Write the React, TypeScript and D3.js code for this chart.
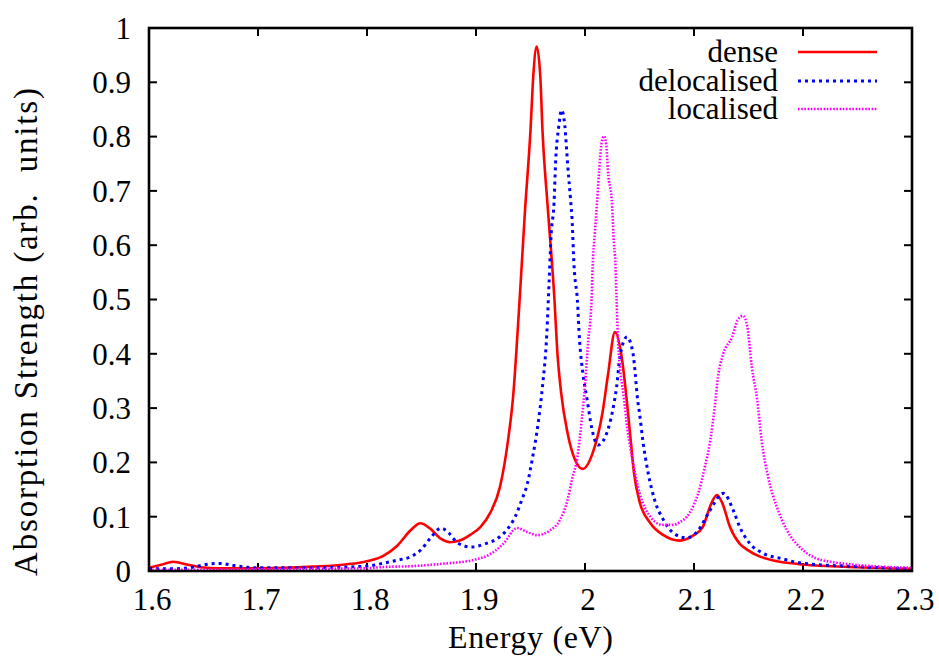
import React from "react";
import * as d3 from "d3";

const xTicks = [1.6, 1.7, 1.8, 1.9, 2.0, 2.1, 2.2, 2.3];
const xTickLabels = ["1.6", "1.7", "1.8", "1.9", "2", "2.1", "2.2", "2.3"];
const yTicks = [0, 0.1, 0.2, 0.3, 0.4, 0.5, 0.6, 0.7, 0.8, 0.9, 1];
const yTickLabels = ["0", "0.1", "0.2", "0.3", "0.4", "0.5", "0.6", "0.7", "0.8", "0.9", "1"];

const seriesNames = ["dense", "delocalised", "localised"];

const dense: [number, number][] = [
  [1.600, 0.006], [1.612, 0.012], [1.622, 0.017], [1.635, 0.012], [1.647, 0.007],
  [1.665, 0.005], [1.700, 0.005], [1.750, 0.008], [1.780, 0.012], [1.800, 0.018],
  [1.815, 0.028], [1.828, 0.047], [1.840, 0.075], [1.849, 0.088], [1.858, 0.078],
  [1.868, 0.059], [1.876, 0.053], [1.885, 0.056], [1.895, 0.067], [1.904, 0.081],
  [1.913, 0.107], [1.922, 0.155], [1.929, 0.235], [1.934, 0.320], [1.940, 0.499],
  [1.945, 0.665], [1.950, 0.812], [1.9525, 0.91], [1.9557, 0.966], [1.959, 0.91],
  [1.961, 0.812], [1.966, 0.665], [1.972, 0.499], [1.9745, 0.407], [1.978, 0.33],
  [1.984, 0.254], [1.991, 0.204], [1.998, 0.188], [2.007, 0.217], [2.016, 0.291],
  [2.021, 0.36], [2.0275, 0.440], [2.034, 0.389], [2.038, 0.32], [2.041, 0.26],
  [2.045, 0.18], [2.050, 0.128], [2.060, 0.088], [2.072, 0.066], [2.087, 0.056],
  [2.099, 0.065], [2.108, 0.081], [2.116, 0.125], [2.121, 0.140], [2.126, 0.125],
  [2.133, 0.081], [2.142, 0.050], [2.149, 0.039], [2.160, 0.027], [2.172, 0.020],
  [2.195, 0.013], [2.200, 0.012], [2.250, 0.007], [2.300, 0.004],
];

const delocalised: [number, number][] = [
  [1.600, 0.004], [1.620, 0.004], [1.640, 0.007], [1.652, 0.012], [1.665, 0.014],
  [1.678, 0.010], [1.690, 0.007], [1.700, 0.006], [1.750, 0.006], [1.800, 0.009],
  [1.8165, 0.015], [1.828, 0.020], [1.841, 0.027], [1.850, 0.040], [1.858, 0.060],
  [1.868, 0.079], [1.875, 0.070], [1.883, 0.052], [1.896, 0.044], [1.908, 0.050],
  [1.919, 0.059], [1.928, 0.075], [1.936, 0.100], [1.942, 0.131], [1.947, 0.160],
  [1.952, 0.210], [1.957, 0.272], [1.961, 0.340], [1.965, 0.438], [1.967, 0.530],
  [1.969, 0.622], [1.9716, 0.678], [1.973, 0.751], [1.976, 0.82], [1.9785, 0.849],
  [1.9815, 0.82], [1.984, 0.751], [1.987, 0.678], [1.988, 0.652], [1.990, 0.560],
  [1.993, 0.499], [1.995, 0.425], [1.998, 0.365], [2.002, 0.315], [2.006, 0.265],
  [2.012, 0.232], [2.021, 0.260], [2.026, 0.302], [2.029, 0.339], [2.032, 0.394],
  [2.0385, 0.431], [2.044, 0.401], [2.046, 0.365], [2.048, 0.320], [2.050, 0.291],
  [2.053, 0.241], [2.058, 0.180], [2.064, 0.130], [2.072, 0.094], [2.081, 0.070],
  [2.093, 0.061], [2.104, 0.075], [2.113, 0.106], [2.127, 0.143], [2.136, 0.112],
  [2.142, 0.081], [2.151, 0.051], [2.163, 0.033], [2.182, 0.022], [2.197, 0.015],
  [2.250, 0.008], [2.300, 0.004],
];

const localised: [number, number][] = [
  [1.600, 0.002], [1.700, 0.003], [1.750, 0.004], [1.800, 0.005], [1.812, 0.007],
  [1.842, 0.009], [1.873, 0.014], [1.897, 0.020], [1.913, 0.031], [1.925, 0.050],
  [1.9376, 0.079], [1.947, 0.072], [1.956, 0.066], [1.968, 0.075], [1.977, 0.094],
  [1.984, 0.131], [1.988, 0.168], [1.993, 0.210], [1.997, 0.278], [2.000, 0.342],
  [2.003, 0.425], [2.006, 0.499], [2.007, 0.560], [2.009, 0.622], [2.011, 0.678],
  [2.013, 0.738], [2.015, 0.785], [2.0174, 0.801], [2.0195, 0.785], [2.021, 0.738],
  [2.025, 0.670], [2.026, 0.622], [2.028, 0.560], [2.029, 0.499], [2.030, 0.438],
  [2.032, 0.376], [2.035, 0.330], [2.039, 0.260], [2.044, 0.200], [2.050, 0.144],
  [2.060, 0.100], [2.071, 0.085], [2.081, 0.085], [2.087, 0.090], [2.096, 0.107],
  [2.104, 0.144], [2.110, 0.192], [2.115, 0.241], [2.119, 0.302], [2.122, 0.357],
  [2.127, 0.401], [2.135, 0.431], [2.140, 0.462], [2.145, 0.470], [2.149, 0.449],
  [2.153, 0.376], [2.158, 0.315], [2.162, 0.241], [2.168, 0.173], [2.176, 0.118],
  [2.185, 0.076], [2.197, 0.044], [2.209, 0.026], [2.225, 0.017], [2.240, 0.013],
  [2.271, 0.008], [2.300, 0.006],
];

const W = 939;
const H = 660;
const left = 149, right = 912, top = 28, bottom = 571;
const FONT = "Liberation Serif, DejaVu Serif, serif";

export default function App() {
  const x = d3.scaleLinear().domain([1.6, 2.3]).range([left, right]);
  const y = d3.scaleLinear().domain([0, 1]).range([bottom, top]);
  const line = d3
    .line<[number, number]>()
    .x((d) => x(d[0]))
    .y((d) => y(d[1]))
    .curve(d3.curveMonotoneX);

  const styles = [
    { data: dense, color: "#ff0000", width: 2.6, dash: undefined as string | undefined },
    { data: delocalised, color: "#0000ff", width: 3, dash: "3 4" },
    { data: localised, color: "#ff00ff", width: 2.6, dash: "1.6 1.6" },
  ];
  const tickLen = 8;
  const legendY = [52, 81, 109];
  const textStyle = { fontFamily: FONT };

  return (
    <svg
      width={W}
      height={H}
      viewBox={`0 0 ${W} ${H}`}
      style={{ position: "absolute", left: 0, top: 0, background: "#fff", fontFamily: FONT }}
    >
      <defs>
        <clipPath id="plotclip">
          <rect x={left} y={top} width={right - left} height={bottom - top} />
        </clipPath>
      </defs>
      <rect x={0} y={0} width={W} height={H} fill="#fff" />

      {/* ticks */}
      {xTicks.map((t, i) => (
        <g key={"xt" + i}>
          <line x1={x(t)} x2={x(t)} y1={bottom} y2={bottom - tickLen} stroke="#000" strokeWidth={2} />
          <line x1={x(t)} x2={x(t)} y1={top} y2={top + tickLen} stroke="#000" strokeWidth={2} />
          <text x={x(t) + 3} y={610} textAnchor="middle" style={textStyle} fontSize={31} fill="#000">
            {xTickLabels[i]}
          </text>
        </g>
      ))}
      {yTicks.map((t, i) => (
        <g key={"yt" + i}>
          <line x1={left} x2={left + tickLen} y1={y(t)} y2={y(t)} stroke="#000" strokeWidth={2} />
          <line x1={right} x2={right - tickLen} y1={y(t)} y2={y(t)} stroke="#000" strokeWidth={2} />
          <text x={131} y={y(t)} dy="0.35em" textAnchor="end" style={textStyle} fontSize={31} fill="#000">
            {yTickLabels[i]}
          </text>
        </g>
      ))}

      {/* curves */}
      <g clipPath="url(#plotclip)">
        {styles.map((s, i) => (
          <path
            key={"c" + i}
            d={line(s.data) || ""}
            fill="none"
            stroke={s.color}
            strokeWidth={s.width}
            strokeDasharray={s.dash}
            strokeLinejoin="round"
          />
        ))}
      </g>

      {/* frame */}
      <rect
        x={left}
        y={top}
        width={right - left}
        height={bottom - top}
        fill="none"
        stroke="#000"
        strokeWidth={2.6}
      />

      {/* legend */}
      {styles.map((s, i) => (
        <g key={"lg" + i}>
          <text x={778} y={legendY[i]} dy="0.32em" textAnchor="end" style={textStyle} fontSize={31} fill="#000">
            {seriesNames[i]}
          </text>
          <line
            x1={798}
            x2={877}
            y1={legendY[i]}
            y2={legendY[i]}
            stroke={s.color}
            strokeWidth={s.width}
            strokeDasharray={s.dash}
          />
        </g>
      ))}

      {/* axis titles */}
      <text
        x={(left + right) / 2}
        y={648}
        textAnchor="middle"
        style={textStyle}
        fontSize={32}
        textLength={165}
        lengthAdjust="spacing"
        fill="#000"
      >
        Energy (eV)
      </text>
      <text
        transform={`translate(37, 332) rotate(-90)`}
        textAnchor="middle"
        style={{ fontFamily: FONT, whiteSpace: "pre" }}
        fontSize={33}
        textLength={488}
        lengthAdjust="spacing"
        fill="#000"
      >
        {"Absorption Strength (arb.  units)"}
      </text>
    </svg>
  );
}
